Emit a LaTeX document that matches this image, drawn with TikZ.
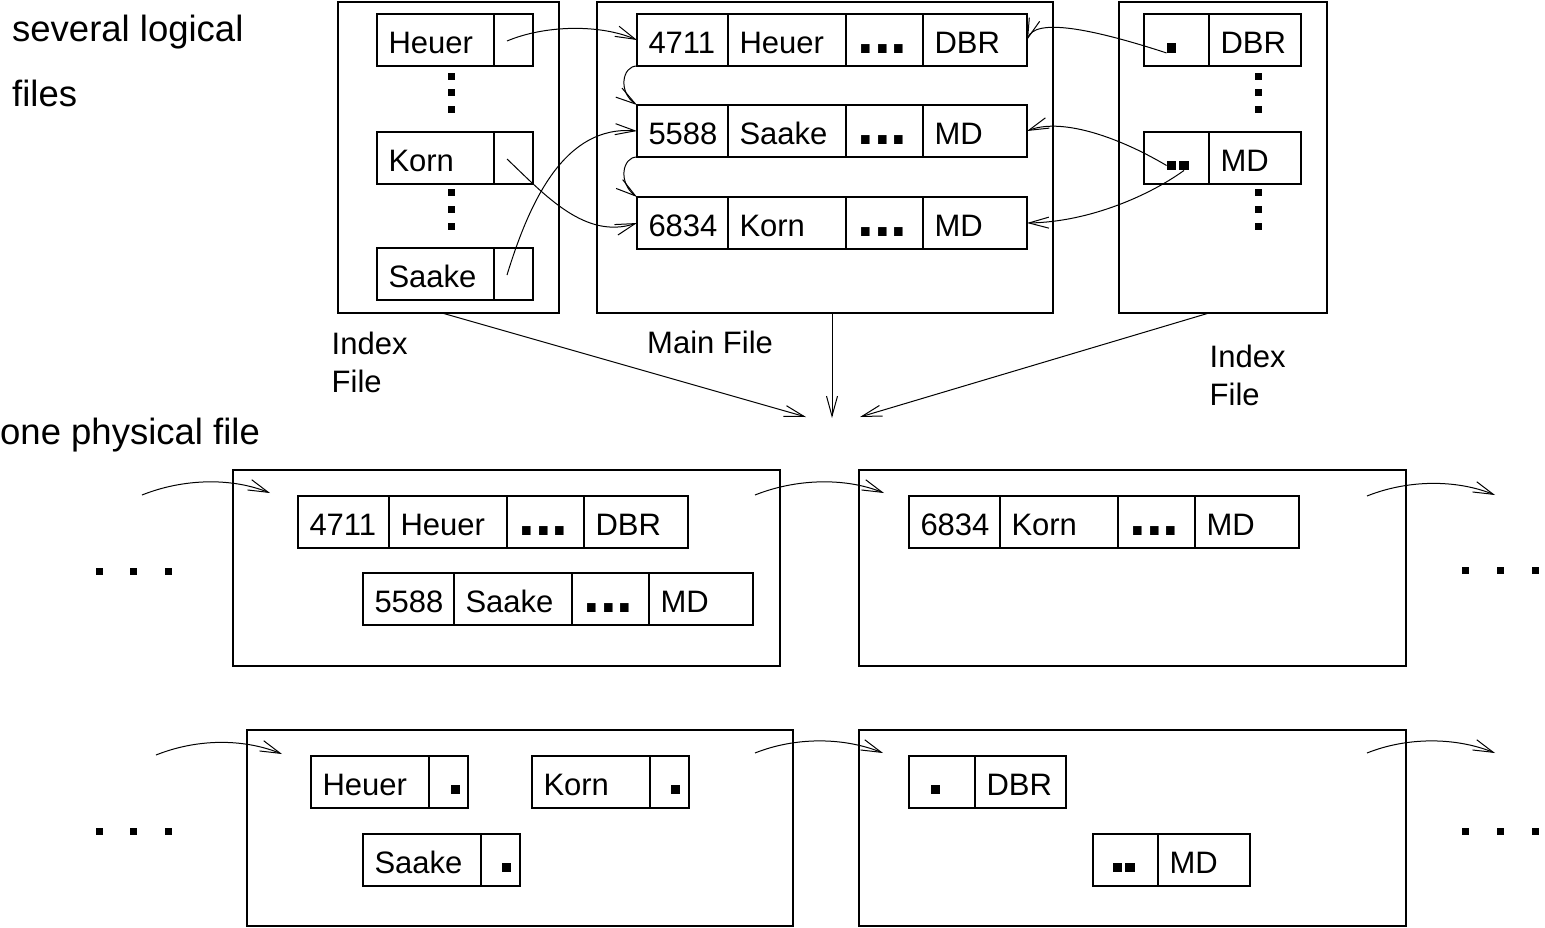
\documentclass[tikz,border=0pt]{standalone}
\usepackage{fontspec}
\setmainfont{Liberation Sans}
\usetikzlibrary{arrows.meta}

% one field of a record: name, north-west corner, width, content
\newcommand\recfield[4]{\node[fld] (#1) at (#2) {\makebox[\dimexpr #3pt-23pt\relax][l]{#4}};}
% the "..." placeholder field
\newcommand\recdots{{\fontsize{60}{60}\selectfont\bfseries ...}}

\tikzset{
  frame/.style={draw, line width=1.2pt, anchor=north west, inner sep=0pt, outer sep=0pt},
  fld/.style={draw, line width=1.2pt, anchor=north west, outer sep=0pt,
    minimum height=52pt, inner xsep=11.5pt, inner ysep=0pt,
    text height=30pt, text depth=4pt, font=\fontsize{31}{37}\selectfont},
  arr/.style={line width=1pt, -{Straight Barb[length=20pt,width=11pt]}},
  ptr/.style={fill, inner sep=0pt, minimum size=9.5pt},
  lbl/.style={anchor=base west, inner sep=0pt, font=\fontsize{31}{37}\selectfont},
  big/.style={anchor=base west, inner sep=0pt, font=\fontsize{36.5}{44}\selectfont},
  blob/.style={fill=black},
}

\begin{document}
\begin{tikzpicture}[x=1pt,y=-1pt]
\useasboundingbox (0,0) rectangle (1545,927);

% ---------------- logical files ----------------
\node[big] (tSev) at (12,41) {several logical};
\node[big] (tFiles) at (12,106) {files};

\node[frame, minimum width=221pt, minimum height=311pt] (ixL) at (338,2) {};
\node[frame, minimum width=456pt, minimum height=311pt] (mainF) at (597,2) {};
\node[frame, minimum width=208pt, minimum height=311pt] (ixR) at (1119,2) {};

% left index file
\recfield{ih}{377,14}{117}{Heuer}\recfield{ihp}{ih.north east}{39}{}
\recfield{ik}{377,132}{117}{Korn}\recfield{ikp}{ik.north east}{39}{}
\recfield{is}{377,248}{117}{Saake}\recfield{isp}{is.north east}{39}{}
\foreach \y in {76,92,109,192,209,226}
  \fill[blob] (448,{\y-3.5}) rectangle ++(7,7);

% main file
\recfield{m1a}{637,14}{91}{4711}\recfield{m1b}{m1a.north east}{118}{Heuer}%
\recfield{m1c}{m1b.north east}{77}{\recdots}\recfield{m1d}{m1c.north east}{104}{DBR}
\recfield{m2a}{637,105}{91}{5588}\recfield{m2b}{m2a.north east}{118}{Saake}%
\recfield{m2c}{m2b.north east}{77}{\recdots}\recfield{m2d}{m2c.north east}{104}{MD}
\recfield{m3a}{637,197}{91}{6834}\recfield{m3b}{m3a.north east}{118}{Korn}%
\recfield{m3c}{m3b.north east}{77}{\recdots}\recfield{m3d}{m3c.north east}{104}{MD}

% right index file
\recfield{rdp}{1144,14}{65}{}\recfield{rd}{rdp.north east}{92}{DBR}
\recfield{rmp}{1144,132}{65}{}\recfield{rm}{rmp.north east}{92}{MD}
\node[ptr] (qd) at (1171.5,48) {};
\node[ptr] (qm1) at (1171.5,165.5) {};
\node[ptr] (qm2) at (1184,165.5) {};
\foreach \y in {76,92,109,192,209,226}
  \fill[blob] (1255,{\y-3.5}) rectangle ++(7,7);

% pointers between the logical files
\draw[arr] ([shift={(-6.5,1)}]ihp.center) .. controls (545,25) and (600,24) .. (m1a.west);
\draw[arr] ([shift={(-6.5,1)}]ikp.center) .. controls (545,195) and (585,240) .. (m3a.west);
\draw[arr] ([shift={(-6.5,1)}]isp.center) .. controls (530,200) and (565,125) .. (m2a.west);
\draw[arr] (m1a.south west) .. controls (622,66) and (618,92) .. (m2a.north west);
\draw[arr] (m2a.south west) .. controls (622,157) and (618,183) .. (m3a.north west);
\draw[arr] (qd.south west) .. controls (1090,28) and (1035,18) .. (m1d.east);
\draw[arr] (qm1.west) .. controls (1115,135) and (1060,118) .. (m2d.east);
\draw[arr] (qm2.south) .. controls (1150,195) and (1090,222) .. (m3d.east);

% labels under the logical files
\node[lbl] (lIdxL) at (331.5,354) {Index};
\node[lbl] (lFileL) at (331.5,392) {File};
\node[lbl] (lMain) at (647,353) {Main File};
\node[lbl] (lIdxR) at (1209.5,367) {Index};
\node[lbl] (lFileR) at (1209.5,405) {File};

% mapping onto the physical file
\coordinate (t1) at (806,417);
\coordinate (t2) at (832,418);
\coordinate (t3) at (860,417);
\draw[arr] ([xshift=-6.5pt]ixL.south) -- (t1);
\draw[arr] ([xshift=7pt]mainF.south) -- (t2);
\draw[arr] ([xshift=-14pt]ixR.south) -- (t3);

% ---------------- physical file ----------------
\node[big] (tPhys) at (0,444) {one physical file};

\node[frame, minimum width=547pt, minimum height=196pt] (pA) at (233,470) {};
\node[frame, minimum width=547pt, minimum height=196pt] (pB) at (859,470) {};
\node[frame, minimum width=546pt, minimum height=196pt] (pC) at (247,730) {};
\node[frame, minimum width=547pt, minimum height=196pt] (pD) at (859,730) {};

% data blocks
\recfield{b1a}{298,496}{91}{4711}\recfield{b1b}{b1a.north east}{118}{Heuer}%
\recfield{b1c}{b1b.north east}{77}{\recdots}\recfield{b1d}{b1c.north east}{104}{DBR}
\recfield{b2a}{363,573}{91}{5588}\recfield{b2b}{b2a.north east}{118}{Saake}%
\recfield{b2c}{b2b.north east}{77}{\recdots}\recfield{b2d}{b2c.north east}{104}{MD}
\recfield{b3a}{909,496}{91}{6834}\recfield{b3b}{b3a.north east}{118}{Korn}%
\recfield{b3c}{b3b.north east}{77}{\recdots}\recfield{b3d}{b3c.north east}{104}{MD}

% index blocks
\recfield{ch}{311,756}{118}{Heuer}\recfield{chp}{ch.north east}{39}{}
\recfield{ck}{532,756}{118}{Korn}\recfield{ckp}{ck.north east}{39}{}
\recfield{cs}{363,834}{118}{Saake}\recfield{csp}{cs.north east}{39}{}
\node[ptr] (ph) at (455.5,789.5) {};
\node[ptr] (pk) at (675.5,789.5) {};
\node[ptr] (ps) at (506.5,867.5) {};
\recfield{ddp}{909,756}{66}{}\recfield{dd}{ddp.north east}{91}{DBR}
\recfield{dmp}{1093,834}{65}{}\recfield{dm}{dmp.north east}{92}{MD}
\node[ptr] (pd) at (935.5,789.5) {};
\node[ptr] (pm1) at (1117.5,867.5) {};
\node[ptr] (pm2) at (1130,867.5) {};

% block chaining
\coordinate (a1s) at (142,495);  \coordinate (a1e) at (270,493);
\coordinate (a2s) at (755,495);  \coordinate (a2e) at (884,493);
\coordinate (a3s) at (1367,496); \coordinate (a3e) at (1495,495);
\coordinate (c1s) at (156,755);  \coordinate (c1e) at (282,754);
\coordinate (c2s) at (755,753);  \coordinate (c2e) at (883,753);
\coordinate (c3s) at (1367,753); \coordinate (c3e) at (1495,753);
\foreach \s/\e in {a1s/a1e,a2s/a2e,a3s/a3e,c1s/c1e,c2s/c2e,c3s/c3e}
  \draw[arr] (\s) .. controls +(40,-16) and +(-40,-16) .. (\e);

% continuation dots
\foreach \x in {99,133,168}
  \foreach \y in {571,831}
    \fill[blob] ({\x-3.5},{\y-3.5}) rectangle ++(7,7);
\foreach \x in {1465,1500,1535}
  \foreach \y in {570,831}
    \fill[blob] ({\x-3.5},{\y-3.5}) rectangle ++(7,7);
\end{tikzpicture}
\end{document}
